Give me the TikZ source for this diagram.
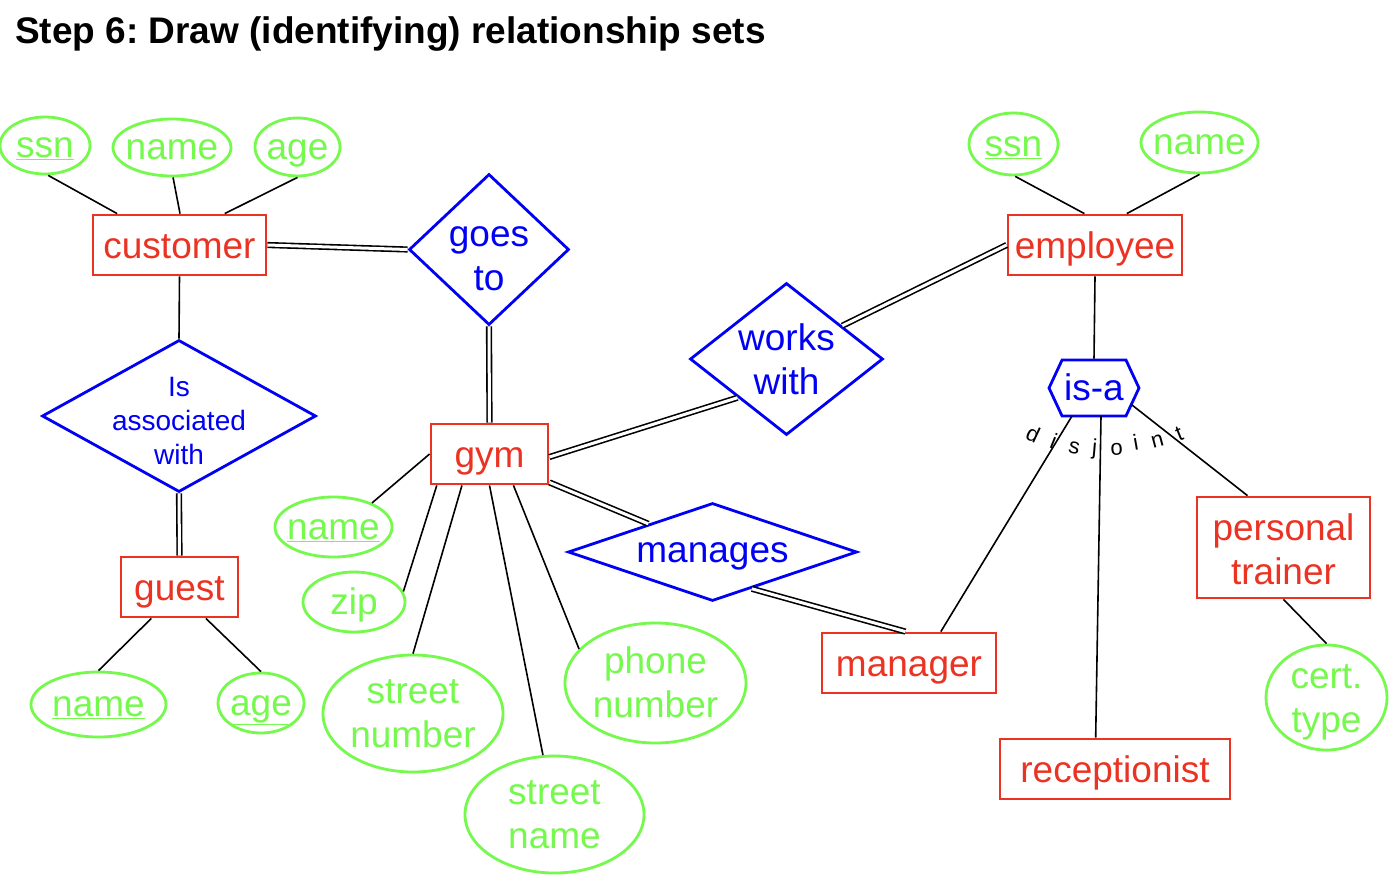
\documentclass[tikz,border=0pt]{standalone}
\usepackage{fontspec}
\setmainfont{Liberation Sans}
\usetikzlibrary{shapes.geometric,shapes.symbols,calc}
\definecolor{erred}{RGB}{235,51,36}
\definecolor{erblue}{RGB}{0,0,245}
\definecolor{ergreen}{RGB}{117,249,77}
\newcommand{\ml}[1]{\begin{tabular}[t]{@{}c@{}}#1\end{tabular}}
\frenchspacing
\begin{document}
\begin{tikzpicture}[x=1pt,y=-1pt,
  ent/.style={draw=erred,line width=2.8pt,rectangle,inner sep=0pt},
  rel/.style={draw=erblue,line width=2.8pt,diamond,inner sep=0pt},
  att/.style={draw=ergreen,line width=2.8pt,ellipse,inner sep=0pt},
  txt/.style={font=\fontsize{37}{44}\selectfont,inner sep=0pt,text height=0pt,text depth=0pt},
  etx/.style={txt,text=erred},
  rtx/.style={txt,text=erblue},
  atx/.style={txt,text=ergreen},
  conn/.style={line width=1.6pt},
  dbl/.style={line width=1.6pt,double=white,double distance=3pt},
  djl/.style={font=\fontsize{22}{26}\selectfont,inner sep=0pt,text height=0pt,text depth=0pt}]
\path[use as bounding box,fill=white] (0,0) rectangle (1394,894);

\node[anchor=base west,font=\bfseries\fontsize{37}{44}\selectfont,inner sep=0pt] (title) at (15,43) {Step 6: Draw (identifying) relationship sets};

% entities
\node[ent,minimum width=173pt,minimum height=60pt,label={[etx,yshift=-13pt]center:customer}] (cust) at (179.5,245) {};
\node[ent,minimum width=174pt,minimum height=60pt,label={[etx,yshift=-13pt]center:employee}] (emp) at (1095,245) {};
\node[ent,minimum width=117pt,minimum height=60pt,label={[etx,yshift=-13pt]center:gym}] (gym) at (489.5,454) {};
\node[ent,minimum width=117pt,minimum height=60pt,label={[etx,yshift=-13pt]center:guest}] (guest) at (179.5,587) {};
\node[ent,minimum width=174pt,minimum height=60pt,label={[etx,yshift=-13pt]center:manager}] (manager) at (909,663) {};
\node[ent,minimum width=230pt,minimum height=60pt,label={[etx,yshift=-13pt]center:receptionist}] (recept) at (1115,769) {};
\node[ent,minimum width=173pt,minimum height=101pt,label={[etx,yshift=7.5pt]center:\ml{personal\\trainer}}] (ptrainer) at (1283.5,547.5) {};

% relationships
\node[rel,minimum width=160pt,minimum height=151pt,label={[rtx,yshift=3.5pt]center:\ml{goes\\to}}] (goes) at (489,249.5) {};
\node[rel,minimum width=274pt,minimum height=152pt,label={[rtx,font=\fontsize{28}{34}\selectfont,yshift=20pt]center:\ml{Is\\associated\\with}}] (assoc) at (179,416) {};
\node[rel,minimum width=193pt,minimum height=152pt,label={[rtx,yshift=9pt]center:\ml{works\\with}}] (works) at (786.5,359) {};
\node[rel,minimum width=289pt,minimum height=98pt,label={[rtx,yshift=-10pt]center:manages}] (manages) at (712.5,552) {};
\node[draw=erblue,line width=2.8pt,signal,signal to=east and west,signal pointer angle=130,minimum width=90pt,minimum height=56pt,inner sep=0pt,label={[rtx,yshift=-12pt]center:is-a}] (isa) at (1094,388) {};

% attributes
\node[att,minimum width=90pt,minimum height=57pt,label={[atx,yshift=-12pt]center:\underline{ssn}}] (cssn) at (45,145.5) {};
\node[att,minimum width=118pt,minimum height=57pt,label={[atx,yshift=-12pt]center:name}] (cname) at (172,147.5) {};
\node[att,minimum width=85pt,minimum height=58pt,label={[atx,yshift=-12pt]center:age}] (cage) at (297.5,147) {};
\node[att,minimum width=89pt,minimum height=62pt,label={[atx,yshift=-12pt]center:\underline{ssn}}] (essn) at (1013.5,144) {};
\node[att,minimum width=117pt,minimum height=61pt,label={[atx,yshift=-12pt]center:name}] (ename) at (1199.5,142.5) {};
\node[att,minimum width=117pt,minimum height=60pt,label={[atx,yshift=-12pt]center:\underline{name}}] (gname) at (333.5,527) {};
\node[att,minimum width=102pt,minimum height=60pt,label={[atx,yshift=-12pt]center:zip}] (zip) at (354,602) {};
\node[att,minimum width=180pt,minimum height=117pt,label={[atx,yshift=10.5pt]center:\ml{street\\number}}] (snum) at (413,713.5) {};
\node[att,minimum width=179pt,minimum height=117pt,label={[atx,yshift=10pt]center:\ml{street\\name}}] (sname) at (554.5,814.5) {};
\node[att,minimum width=181pt,minimum height=120pt,label={[atx,yshift=10pt]center:\ml{phone\\number}}] (phone) at (655.5,683) {};
\node[att,minimum width=135pt,minimum height=65pt,label={[atx,yshift=-12pt]center:\underline{name}}] (guname) at (98.5,704.5) {};
\node[att,minimum width=86pt,minimum height=60pt,label={[atx,yshift=-12pt]center:\underline{age}}] (guage) at (261,703) {};
\node[att,minimum width=121pt,minimum height=105pt,label={[atx,yshift=9pt]center:\ml{cert.\\type}}] (cert) at (1326.5,697.5) {};

% disjoint
\node[djl,rotate=-25] (dj1) at (1030,441) {d};
\node[djl,rotate=-22] (dj2) at (1051,448) {i};
\node[djl,rotate=-12] (dj3) at (1073,454) {s};
\node[djl,rotate=-5] (dj4) at (1094,455) {j};
\node[djl,rotate=3] (dj5) at (1117,455) {o};
\node[djl,rotate=10] (dj6) at (1137,450) {i};
\node[djl,rotate=15] (dj7) at (1159,447) {n};
\node[djl,rotate=22] (dj8) at (1182,440) {t};

% connectors
\draw[conn] ($(cust.north west)!0.145!(cust.north east)$) -- (cssn.-84);
\draw[conn] ($(cust.north west)!0.503!(cust.north east)$) -- (cname.-88);
\draw[conn] ($(cust.north west)!0.757!(cust.north east)$) -- (cage.south);
\draw[conn] (cust.south) -- (assoc.north);
\draw[dbl] (assoc.south) -- (guest.north);
\draw[dbl] (cust.east) -- (goes.west);
\draw[dbl] (goes.south) -- (gym.north);
\draw[dbl] ($(gym.east)+(0,3)$) -- ($(works.west)!0.5!(works.south)$);
\draw[dbl] ($(works.north)!0.57!(works.east)$) -- (emp.west);
\draw[dbl] ($(gym.south east)+(0,-3)$) -- ($(manages.west)!0.56!(manages.north)$);
\draw[dbl] ($(manages.south)!0.27!(manages.east)$) -- ($(manager.north west)!0.48!(manager.north east)$);
\draw[conn] (gym.west) -- (gname.32);
\draw[conn] ($(gym.south west)!0.06!(gym.south east)$) -- (zip.12);
\draw[conn] ($(gym.south west)!0.27!(gym.south east)$) -- (snum.north);
\draw[conn] (gym.south) -- (sname.101);
\draw[conn] ($(gym.south west)!0.7!(gym.south east)$) -- (phone.156);
\draw[conn] ($(emp.north west)!0.44!(emp.north east)$) -- (essn.-87);
\draw[conn] ($(emp.north west)!0.68!(emp.north east)$) -- (ename.south);
\draw[conn] (emp.south) -- (isa.north);
\draw[conn] ($(isa.center)+(-22,28)$) -- ($(manager.north west)!0.68!(manager.north east)$);
\draw[conn] ($(isa.center)+(7,28)$) -- ($(recept.north west)!0.417!(recept.north east)$);
\draw[conn] ($(isa.center)+(38,17)$) -- ($(ptrainer.north west)!0.295!(ptrainer.north east)$);
\draw[conn] ($(guest.south west)!0.265!(guest.south east)$) -- (guname.north);
\draw[conn] ($(guest.south west)!0.72!(guest.south east)$) -- (guage.north);
\draw[conn] (ptrainer.south) -- (cert.north);
\end{tikzpicture}
\end{document}
